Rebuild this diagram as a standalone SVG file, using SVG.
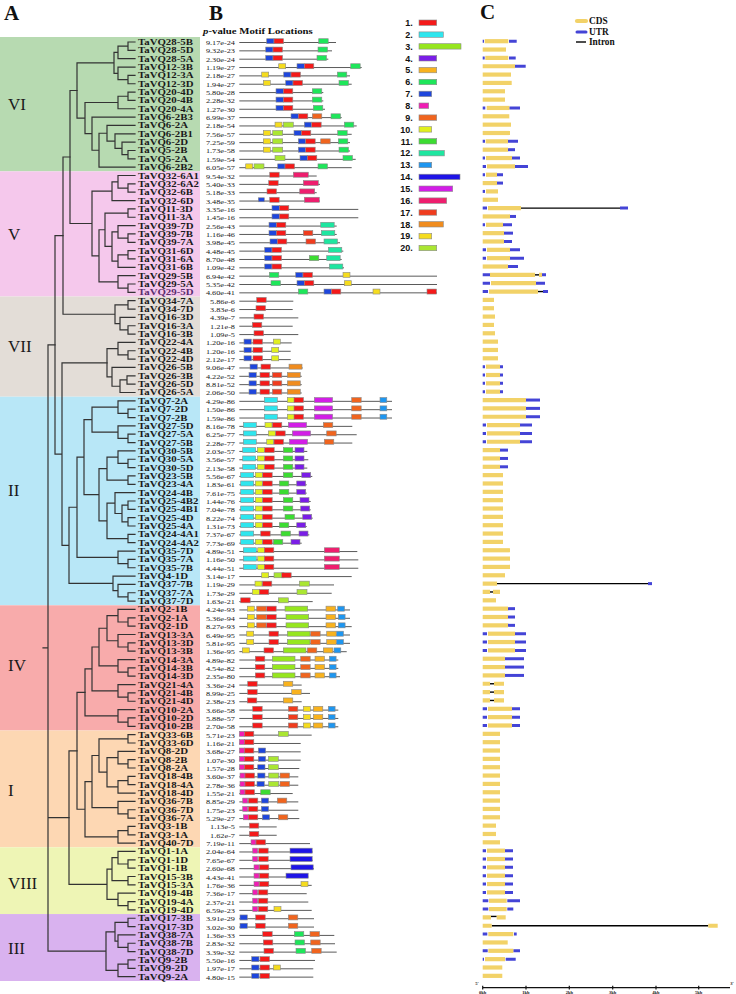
<svg xmlns="http://www.w3.org/2000/svg" width="736" height="994" viewBox="0 0 736 994">
<style>
.lb{font:bold 8.6px "Liberation Serif",serif;fill:#1a1a1a}
.pv{font:6.6px "Liberation Serif",serif;fill:#222;text-anchor:end}
.ln{stroke:#5a5a5a;stroke-width:1;fill:none}
.b{stroke:#8a8a8a;stroke-width:.6}
.c{stroke:#f2d268;stroke-width:4.2;fill:none}
.u{stroke:#4444d6;stroke-width:3;fill:none}
.i{stroke:#000;stroke-width:1.4;fill:none}
.tr{stroke:#333;stroke-width:1.2;fill:none;stroke-linecap:square}
.gn{font:17px "Liberation Serif",serif;fill:#1a1a1a}
.big{font:bold 21px "Liberation Serif",serif;fill:#111}
.hd{font:bold 9px "Liberation Serif",serif;fill:#111}
.lgn{font:bold 9px "Liberation Sans",sans-serif;fill:#111;text-anchor:end}
.cl{font:bold 9.3px "Liberation Serif",serif;fill:#111}
.ax{font:bold 4.5px "Liberation Serif",serif;fill:#111;text-anchor:middle}
.k1{fill:#f41a1a}.k2{fill:#2ee6ee}.k3{fill:#96e61e}.k4{fill:#7a1ee6}.k5{fill:#f8b21e}
.k6{fill:#1ee65a}.k7{fill:#1e46dc}.k8{fill:#f01eb4}.k9{fill:#f0641e}.k10{fill:#e1f01e}
.k11{fill:#3cdc32}.k12{fill:#1ee6a0}.k13{fill:#1e96f0}.k14{fill:#1e14e6}.k15{fill:#d21ee6}
.k16{fill:#ee1e6e}.k17{fill:#f03c1e}.k18{fill:#f08c1e}.k19{fill:#f5dc1e}.k20{fill:#aae632}
</style>
<defs>
<rect id="m1" class="b k1" y="-3.3" width="9.5" height="5"/>
<rect id="m2" class="b k2" y="-3.3" width="13" height="5"/>
<rect id="m3" class="b k3" y="-3.3" width="22.7" height="5"/>
<rect id="m4" class="b k4" y="-3.3" width="9" height="5"/>
<rect id="m5" class="b k5" y="-3.3" width="9.5" height="5"/>
<rect id="m6" class="b k6" y="-3.3" width="9.5" height="5"/>
<rect id="m7" class="b k7" y="-3.3" width="7.3" height="5"/>
<rect id="m7s" class="b k7" y="-2.8" width="6" height="4"/>
<rect id="m8" class="b k8" y="-3.3" width="5" height="5"/>
<rect id="m9" class="b k9" y="-3.3" width="9.5" height="5"/>
<rect id="m10" class="b k10" y="-3.3" width="7" height="5"/>
<rect id="m11" class="b k11" y="-3.3" width="9.5" height="5"/>
<rect id="m12" class="b k12" y="-3.3" width="13.5" height="5"/>
<rect id="m13" class="b k13" y="-3.3" width="6.8" height="5"/>
<rect id="m14" class="b k14" y="-3.3" width="22.2" height="5"/>
<rect id="m15" class="b k15" y="-3.3" width="18.3" height="5"/>
<rect id="m16" class="b k16" y="-3.3" width="15" height="5"/>
<rect id="m17" class="b k17" y="-3.3" width="9.5" height="5"/>
<rect id="m18" class="b k18" y="-3.3" width="13" height="5"/>
<rect id="m19" class="b k19" y="-3.3" width="7" height="5"/>
<rect id="m20" class="b k20" y="-3.3" width="10" height="5"/>
</defs>
<rect width="736" height="994" fill="#fff"/>
<g id="bands">
<rect x="0" y="37" width="200" height="134.35" fill="#b7dab1"/>
<rect x="0" y="171.35" width="200" height="125.15" fill="#f5c8ec"/>
<rect x="0" y="296.5" width="200" height="100.2" fill="#e3ddd7"/>
<rect x="0" y="396.7" width="200" height="208.6" fill="#b8e7f7"/>
<rect x="0" y="605.3" width="200" height="125.2" fill="#f8abab"/>
<rect x="0" y="730.5" width="200" height="116.8" fill="#fdd7b3"/>
<rect x="0" y="847.3" width="200" height="66.75" fill="#eef5b5"/>
<rect x="0" y="914.05" width="200" height="66.95" fill="#d9b2ef"/>
</g>
<g id="group-labels">
<text class="gn" x="8" y="110">VI</text>
<text class="gn" x="8" y="240">V</text>
<text class="gn" x="8" y="352">VII</text>
<text class="gn" x="8" y="496">II</text>
<text class="gn" x="8" y="671">IV</text>
<text class="gn" x="8" y="796">I</text>
<text class="gn" x="8" y="889">VIII</text>
<text class="gn" x="8" y="954">III</text>
</g>
<g id="panel-letters">
<text class="big" x="4" y="19.5">A</text>
<text class="big" x="209" y="19.5">B</text>
<text class="big" x="480" y="19">C</text>
<text class="hd" transform="matrix(1.2 0 0 1 203 33.5)"><tspan font-style="italic">p</tspan>-value Motif Locations</text>
</g>
<g id="tree" transform="matrix(1 0 0 8.345 0 33.655)">
<path class="tr" vector-effect="non-scaling-stroke" d="M135 1H128V2H135M128 1.5H118V3H135M135 5H128V6H135M135 4H118V5.5H128M118 2.25H114V4.75H118M135 7H128V8H135M128 7.5H118V9H135M135 14H128V15H135M135 13H122V14.5H128M135 12H115V13.75H122M135 11H107V12.875H115M107 11.9375H99V16H135M135 10H92V13.969H99M118 8.25H85V11.984H92M114 3.5H77V10.117H85"/>
<path class="tr" vector-effect="non-scaling-stroke" d="M135 18H128V19H135M135 17H118V18.5H128M118 17.75H112V20H135M135 21H128V22H135M135 24H128V25H135M135 23H118V24.5H128M135 26H128V27H135M128 26.5H118V28H135M118 23.75H112V27.25H118M128 21.5H105V25.5H112M135 30H128V31H135M135 29H118V30.5H128M105 23.5H99V29.75H118M112 18.875H92V26.625H99M77 6.809H70V22.75H92"/>
<path class="tr" vector-effect="non-scaling-stroke" d="M135 32H128V33H135M135 35H128V36H135M135 34H120V35.5H128M128 32.5H115V34.75H120M135 38H128V39H135M135 37H118V38.5H128M135 41H127V42H135M127 41.5H120V43H135M135 40H112V42.25H120M118 37.75H107V41.125H112M70 14.78H63V33.625H115"/>
<path class="tr" vector-effect="non-scaling-stroke" d="M135 45H128V46H135M135 44H118V45.5H128M135 48H128V49H135M135 47H118V48.5H128M118 44.75H92V47.75H118M135 51H128V52H135M135 50H118V51.5H128M135 53H128V54H135M118 50.75H107V53.5H128M135 56H128V57H135M135 58H128V59H135M128 56.5H122V58.5H128M135 55H115V57.5H122M135 60H128V61H135M115 56.25H107V60.5H128M107 52.125H99V58.375H107M92 46.25H84V55.25H99M135 63H128V64H135M135 62H118V63.5H128M84 50.75H77V62.75H118M135 67H128V68H135M135 66H118V67.5H128M135 65H113V66.75H118M77 56.75H69V65.875H113M107 39.44H62V61.31H69M63 24.2H55V50.375H62"/>
<path class="tr" vector-effect="non-scaling-stroke" d="M135 70H128V71H135M135 69H118V70.5H128M135 73H128V74H135M135 72H118V73.5H128M118 69.75H107V72.75H118M135 76H128V77H135M135 75H118V76.5H128M107 71.25H99V75.75H118M135 79H128V80H135M135 78H118V79.5H128M99 73.5H92V78.75H118M135 82H128V83H135M135 81H118V82.5H128M92 76.125H85V81.75H118"/>
<path class="tr" vector-effect="non-scaling-stroke" d="M135 84H128V85H135M135 87H128V88H135M135 86H118V87.5H128M135 89H128V90H135M128 89.5H118V91H135M118 86.75H107V90.25H118M128 84.5H99V88.5H107M135 93H128V94H135M135 92H118V93.5H128M99 86.5H92V92.75H118M135 95H128V96H135M128 95.5H118V97H135M92 89.625H85V96.25H118M85 78.94H77V92.94H85"/>
<path class="tr" vector-effect="non-scaling-stroke" d="M135 99H128V100H135M135 98H118V99.5H128M135 101H128V102H135M118 98.75H112V101.5H128M135 104H128V105H135M135 103H118V104.5H128M112 100.125H107V103.75H118M77 85.94H69V101.94H107"/>
<path class="tr" vector-effect="non-scaling-stroke" d="M135 106H128V107H135M135 109H128V110H135M135 108H118V109.5H128M128 106.5H115V108.75H118M135 111H128V112H135M128 111.5H118V113H135M115 107.625H106V112.25H118M55 37.29H48V109.94H106M48 93.94H69M43 73.6H48"/>
</g>
<g id="motif-legend">
<text class="lgn" x="412.7" y="25.9">1.</text><rect class="b k1" x="419" y="20" width="17.7" height="5.4"/>
<text class="lgn" x="412.7" y="37.8">2.</text><rect class="b k2" x="419" y="31.9" width="24.3" height="5.4"/>
<text class="lgn" x="412.7" y="49.6">3.</text><rect class="b k3" x="419" y="43.7" width="42" height="5.4"/>
<text class="lgn" x="412.7" y="61.5">4.</text><rect class="b k4" x="419" y="55.6" width="17.7" height="5.4"/>
<text class="lgn" x="412.7" y="73.3">5.</text><rect class="b k5" x="419" y="67.4" width="17.7" height="5.4"/>
<text class="lgn" x="412.7" y="85.2">6.</text><rect class="b k6" x="419" y="79.3" width="17.7" height="5.4"/>
<text class="lgn" x="412.7" y="97.1">7.</text><rect class="b k7" x="419" y="91.2" width="12.7" height="5.4"/>
<text class="lgn" x="412.7" y="108.9">8.</text><rect class="b k8" x="419" y="103" width="9.7" height="5.4"/>
<text class="lgn" x="412.7" y="120.8">9.</text><rect class="b k9" x="419" y="114.9" width="17.7" height="5.4"/>
<text class="lgn" x="412.7" y="132.6">10.</text><rect class="b k10" x="419" y="126.7" width="12.7" height="5.4"/>
<text class="lgn" x="412.7" y="144.5">11.</text><rect class="b k11" x="419" y="138.6" width="17.7" height="5.4"/>
<text class="lgn" x="412.7" y="156.4">12.</text><rect class="b k12" x="419" y="150.5" width="25.3" height="5.4"/>
<text class="lgn" x="412.7" y="168.2">13.</text><rect class="b k13" x="419" y="162.3" width="12.7" height="5.4"/>
<text class="lgn" x="412.7" y="180.1">14.</text><rect class="b k14" x="419" y="174.2" width="41" height="5.4"/>
<text class="lgn" x="412.7" y="191.9">15.</text><rect class="b k15" x="419" y="186" width="33.7" height="5.4"/>
<text class="lgn" x="412.7" y="203.8">16.</text><rect class="b k16" x="419" y="197.9" width="27.7" height="5.4"/>
<text class="lgn" x="412.7" y="215.7">17.</text><rect class="b k17" x="419" y="209.8" width="17.7" height="5.4"/>
<text class="lgn" x="412.7" y="227.5">18.</text><rect class="b k18" x="419" y="221.6" width="24.3" height="5.4"/>
<text class="lgn" x="412.7" y="239.4">19.</text><rect class="b k19" x="419" y="233.5" width="12.7" height="5.4"/>
<text class="lgn" x="412.7" y="251.2">20.</text><rect class="b k20" x="419" y="245.3" width="17.7" height="5.4"/>
</g>
<g id="gene-legend">
<path class="c" d="M577 21H586" stroke-width="3" stroke-linecap="round"/><text class="cl" x="589" y="24.3">CDS</text>
<path class="u" d="M577 32H586" stroke-width="3" stroke-linecap="round"/><text class="cl" x="589" y="35">UTR</text>
<path class="i" d="M576 42H586" stroke-width="2"/><text class="cl" x="589" y="45.2">Intron</text>
</g>
<g id="axis">
<path d="M482.7 987.7H730M482.7 985.8V989.5M526 985.8V989.5M569.3 985.8V989.5M612.7 985.8V989.5M656 985.8V989.5M698.7 985.8V989.5" stroke="#111" stroke-width="1.2" fill="none"/>
<text class="ax" x="482.7" y="993.5">0kb</text><text class="ax" x="526" y="993.5">1kb</text><text class="ax" x="569.3" y="993.5">2kb</text><text class="ax" x="612.7" y="993.5">3kb</text><text class="ax" x="656" y="993.5">4kb</text><text class="ax" x="698.7" y="993.5">5kb</text>
<text class="ax" x="477" y="984.5">5'</text><text class="ax" x="732" y="984.5">3'</text>
</g>
<g id="rows">
<g id="TaVQ28-5B" transform="translate(0,42)"><text class="lb" transform="matrix(1.26 0 0 1 138 3)">TaVQ28-5B</text><text class="pv" transform="matrix(1.25 0 0 1 235 3)">9.17e-24</text><path class="ln" d="M239.3 .5H336"/><use href="#m7" x="266.7"/><use href="#m1" x="274"/><use href="#m6" x="318.7"/><path class="u" d="M482.7-.8H484M509-.8H516.7"/><path class="c" d="M484.7-.8H508.3"/></g>
<g id="TaVQ28-5D" transform="translate(0,50.35)"><text class="lb" transform="matrix(1.26 0 0 1 138 3)">TaVQ28-5D</text><text class="pv" transform="matrix(1.25 0 0 1 235 3)">9.32e-23</text><path class="ln" d="M239.3 .5H332"/><use href="#m7" x="265.7"/><use href="#m1" x="273"/><use href="#m6" x="318"/><path class="c" d="M482.7-.8H506"/></g>
<g id="TaVQ28-5A" transform="translate(0,58.69)"><text class="lb" transform="matrix(1.26 0 0 1 138 3)">TaVQ28-5A</text><text class="pv" transform="matrix(1.25 0 0 1 235 3)">2.30e-24</text><path class="ln" d="M239.3 .5H328.3"/><use href="#m7" x="265.7"/><use href="#m1" x="273"/><use href="#m6" x="317"/><path class="u" d="M482.7-.8H484.7M509-.8H515.7"/><path class="c" d="M485.3-.8H508.3"/></g>
<g id="TaVQ12-3B" transform="translate(0,67.04)"><text class="lb" transform="matrix(1.26 0 0 1 138 3)">TaVQ12-3B</text><text class="pv" transform="matrix(1.25 0 0 1 235 3)">1.19e-27</text><path class="ln" d="M239.3 .5H361.7"/><use href="#m19" x="278.7"/><use href="#m7" x="297"/><use href="#m1" x="304.3"/><use href="#m6" x="350.7"/><path class="u" d="M515-.8H525.7"/><path class="c" d="M482.7-.8H515"/></g>
<g id="TaVQ12-3A" transform="translate(0,75.38)"><text class="lb" transform="matrix(1.26 0 0 1 138 3)">TaVQ12-3A</text><text class="pv" transform="matrix(1.25 0 0 1 235 3)">2.18e-27</text><path class="ln" d="M239.3 .5H350"/><use href="#m19" x="261.7"/><use href="#m7" x="283.7"/><use href="#m1" x="291"/><use href="#m6" x="337.3"/><path class="c" d="M482.7-.8H511"/></g>
<g id="TaVQ12-3D" transform="translate(0,83.73)"><text class="lb" transform="matrix(1.26 0 0 1 138 3)">TaVQ12-3D</text><text class="pv" transform="matrix(1.25 0 0 1 235 3)">1.94e-27</text><path class="ln" d="M239.3 .5H351.7"/><use href="#m19" x="263.3"/><use href="#m7" x="285.7"/><use href="#m1" x="293"/><use href="#m6" x="339"/><path class="c" d="M482.7-.8H511.7"/></g>
<g id="TaVQ20-4D" transform="translate(0,92.07)"><text class="lb" transform="matrix(1.26 0 0 1 138 3)">TaVQ20-4D</text><text class="pv" transform="matrix(1.25 0 0 1 235 3)">5.80e-28</text><path class="ln" d="M239.3 .5H323.3"/><use href="#m7" x="276"/><use href="#m1" x="283.3"/><use href="#m6" x="312.3"/><path class="c" d="M482.7-.8H505"/></g>
<g id="TaVQ20-4B" transform="translate(0,100.42)"><text class="lb" transform="matrix(1.26 0 0 1 138 3)">TaVQ20-4B</text><text class="pv" transform="matrix(1.25 0 0 1 235 3)">2.28e-32</text><path class="ln" d="M239.3 .5H323.3"/><use href="#m7" x="276"/><use href="#m1" x="283.3"/><use href="#m6" x="312.3"/><path class="c" d="M482.7-.8H505"/></g>
<g id="TaVQ20-4A" transform="translate(0,108.76)"><text class="lb" transform="matrix(1.26 0 0 1 138 3)">TaVQ20-4A</text><text class="pv" transform="matrix(1.25 0 0 1 235 3)">1.27e-30</text><path class="ln" d="M239.3 .5H325"/><use href="#m7" x="276"/><use href="#m1" x="283.3"/><use href="#m6" x="313.3"/><path class="u" d="M482.7-.8H485.3M509.3-.8H520"/><path class="c" d="M486.7-.8H509.3"/></g>
<g id="TaVQ6-2B3" transform="translate(0,117.11)"><text class="lb" transform="matrix(1.26 0 0 1 138 3)">TaVQ6-2B3</text><text class="pv" transform="matrix(1.25 0 0 1 235 3)">6.99e-37</text><path class="ln" d="M239.3 .5H341.7"/><use href="#m7" x="291"/><use href="#m1" x="298.3"/><use href="#m9" x="312.3"/><use href="#m6" x="331"/><path class="c" d="M482.7-.8H509.3"/></g>
<g id="TaVQ6-2A" transform="translate(0,125.45)"><text class="lb" transform="matrix(1.26 0 0 1 138 3)">TaVQ6-2A</text><text class="pv" transform="matrix(1.25 0 0 1 235 3)">2.18e-54</text><path class="ln" d="M239.3 .5H356.7"/><use href="#m19" x="275"/><use href="#m20" x="283.3"/><use href="#m7" x="304.3"/><use href="#m1" x="311.7"/><use href="#m6" x="344.3"/><path class="c" d="M482.7-.8H511"/></g>
<g id="TaVQ6-2B1" transform="translate(0,133.8)"><text class="lb" transform="matrix(1.26 0 0 1 138 3)">TaVQ6-2B1</text><text class="pv" transform="matrix(1.25 0 0 1 235 3)">7.56e-57</text><path class="ln" d="M239.3 .5H351.7"/><use href="#m19" x="263.3"/><use href="#m20" x="272.7"/><use href="#m7" x="294"/><use href="#m1" x="301.3"/><use href="#m6" x="337.7"/><path class="c" d="M482.7-.8H510"/></g>
<g id="TaVQ6-2D" transform="translate(0,142.14)"><text class="lb" transform="matrix(1.26 0 0 1 138 3)">TaVQ6-2D</text><text class="pv" transform="matrix(1.25 0 0 1 235 3)">7.25e-59</text><path class="ln" d="M239.3 .5H350"/><use href="#m19" x="263.3"/><use href="#m20" x="272.7"/><use href="#m7" x="298.3"/><use href="#m1" x="305.7"/><use href="#m9" x="320.7"/><use href="#m6" x="338.3"/><path class="u" d="M482.7-.8H485M508-.8H518"/><path class="c" d="M485.7-.8H508"/></g>
<g id="TaVQ5-2B" transform="translate(0,150.49)"><text class="lb" transform="matrix(1.26 0 0 1 138 3)">TaVQ5-2B</text><text class="pv" transform="matrix(1.25 0 0 1 235 3)">1.73e-58</text><path class="ln" d="M239.3 .5H350"/><use href="#m19" x="263.3"/><use href="#m20" x="272.7"/><use href="#m7" x="298.3"/><use href="#m1" x="305.7"/><use href="#m6" x="339"/><path class="u" d="M508-.8H515"/><path class="c" d="M482.7-.8H508"/></g>
<g id="TaVQ5-2A" transform="translate(0,158.83)"><text class="lb" transform="matrix(1.26 0 0 1 138 3)">TaVQ5-2A</text><text class="pv" transform="matrix(1.25 0 0 1 235 3)">1.59e-54</text><path class="ln" d="M239.3 .5H355.7"/><use href="#m20" x="275"/><use href="#m7" x="300"/><use href="#m1" x="307.3"/><use href="#m6" x="343"/><path class="u" d="M482.7-.8H485M512-.8H520"/><path class="c" d="M486-.8H512"/></g>
<g id="TaVQ6-2B2" transform="translate(0,167.18)"><text class="lb" transform="matrix(1.26 0 0 1 138 3)">TaVQ6-2B2</text><text class="pv" transform="matrix(1.25 0 0 1 235 3)">6.05e-57</text><path class="ln" d="M239.3 .5H351.7"/><use href="#m19" x="245.7"/><use href="#m20" x="254"/><use href="#m7" x="277.7"/><use href="#m1" x="285"/><use href="#m6" x="318"/><path class="u" d="M482.7-.8H486M515-.8H528"/><path class="c" d="M487-.8H515"/></g>
<g id="TaVQ32-6A1" transform="translate(0,175.52)"><text class="lb" transform="matrix(1.26 0 0 1 138 3)">TaVQ32-6A1</text><text class="pv" transform="matrix(1.25 0 0 1 235 3)">9.54e-32</text><path class="ln" d="M239.3 .5H316.7"/><use href="#m1" x="269.7"/><use href="#m16" x="293.3"/><path class="u" d="M482.7-.8H485M497-.8H503"/><path class="c" d="M486-.8H497"/></g>
<g id="TaVQ32-6A2" transform="translate(0,183.87)"><text class="lb" transform="matrix(1.26 0 0 1 138 3)">TaVQ32-6A2</text><text class="pv" transform="matrix(1.25 0 0 1 235 3)">5.40e-33</text><path class="ln" d="M239.3 .5H320"/><use href="#m1" x="268.7"/><use href="#m16" x="303.3"/><path class="u" d="M497-.8H503"/><path class="c" d="M482.7-.8H497"/></g>
<g id="TaVQ32-6B" transform="translate(0,192.21)"><text class="lb" transform="matrix(1.26 0 0 1 138 3)">TaVQ32-6B</text><text class="pv" transform="matrix(1.25 0 0 1 235 3)">5.18e-33</text><path class="ln" d="M239.3 .5H316.7"/><use href="#m1" x="267"/><use href="#m16" x="299.7"/><path class="u" d="M482.7-.8H485"/><path class="c" d="M486-.8H498"/></g>
<g id="TaVQ32-6D" transform="translate(0,200.56)"><text class="lb" transform="matrix(1.26 0 0 1 138 3)">TaVQ32-6D</text><text class="pv" transform="matrix(1.25 0 0 1 235 3)">3.48e-35</text><path class="ln" d="M239.3 .5H320"/><use href="#m7s" x="258.3"/><use href="#m1" x="269.7"/><use href="#m16" x="304.3"/><path class="c" d="M482.7-.8H498"/></g>
<g id="TaVQ11-3D" transform="translate(0,208.9)"><text class="lb" transform="matrix(1.26 0 0 1 138 3)">TaVQ11-3D</text><text class="pv" transform="matrix(1.25 0 0 1 235 3)">3.35e-16</text><path class="ln" d="M239.3 .5H358.3"/><use href="#m7" x="272"/><use href="#m1" x="279.3"/><path class="i" d="M521-.8H620"/><path class="u" d="M482.7-.8H487M620-.8H628"/><path class="c" d="M488-.8H521"/></g>
<g id="TaVQ11-3A" transform="translate(0,217.25)"><text class="lb" transform="matrix(1.26 0 0 1 138 3)">TaVQ11-3A</text><text class="pv" transform="matrix(1.25 0 0 1 235 3)">1.45e-16</text><path class="ln" d="M239.3 .5H358.3"/><use href="#m7" x="272"/><use href="#m1" x="279.3"/><path class="u" d="M510-.8H516"/><path class="c" d="M482.7-.8H510"/></g>
<g id="TaVQ39-7D" transform="translate(0,225.59)"><text class="lb" transform="matrix(1.26 0 0 1 138 3)">TaVQ39-7D</text><text class="pv" transform="matrix(1.25 0 0 1 235 3)">2.56e-43</text><path class="ln" d="M239.3 .5H336.7"/><use href="#m7" x="269"/><use href="#m1" x="276.3"/><use href="#m12" x="320.7"/><path class="u" d="M482.7-.8H485M503-.8H512"/><path class="c" d="M486-.8H503"/></g>
<g id="TaVQ39-7B" transform="translate(0,233.94)"><text class="lb" transform="matrix(1.26 0 0 1 138 3)">TaVQ39-7B</text><text class="pv" transform="matrix(1.25 0 0 1 235 3)">1.16e-46</text><path class="ln" d="M239.3 .5H336.7"/><use href="#m7" x="269"/><use href="#m1" x="276.3"/><use href="#m17" x="303.3"/><use href="#m12" x="321.3"/><path class="u" d="M504-.8H513"/><path class="c" d="M482.7-.8H504"/></g>
<g id="TaVQ39-7A" transform="translate(0,242.28)"><text class="lb" transform="matrix(1.26 0 0 1 138 3)">TaVQ39-7A</text><text class="pv" transform="matrix(1.25 0 0 1 235 3)">3.98e-45</text><path class="ln" d="M239.3 .5H340"/><use href="#m7" x="270"/><use href="#m1" x="277.3"/><use href="#m17" x="306"/><use href="#m12" x="324"/><path class="u" d="M504-.8H512"/><path class="c" d="M482.7-.8H504"/></g>
<g id="TaVQ31-6D" transform="translate(0,250.63)"><text class="lb" transform="matrix(1.26 0 0 1 138 3)">TaVQ31-6D</text><text class="pv" transform="matrix(1.25 0 0 1 235 3)">4.48e-45</text><path class="ln" d="M239.3 .5H343.3"/><use href="#m7" x="264.7"/><use href="#m1" x="272"/><use href="#m12" x="328.3"/><path class="u" d="M482.7-.8H486M510-.8H520"/><path class="c" d="M487-.8H510"/></g>
<g id="TaVQ31-6A" transform="translate(0,258.97)"><text class="lb" transform="matrix(1.26 0 0 1 138 3)">TaVQ31-6A</text><text class="pv" transform="matrix(1.25 0 0 1 235 3)">8.70e-48</text><path class="ln" d="M239.3 .5H341.7"/><use href="#m7" x="264.7"/><use href="#m1" x="272"/><use href="#m11" x="309.3"/><use href="#m12" x="326.7"/><path class="u" d="M482.7-.8H486M510-.8H524"/><path class="c" d="M487-.8H510"/></g>
<g id="TaVQ31-6B" transform="translate(0,267.32)"><text class="lb" transform="matrix(1.26 0 0 1 138 3)">TaVQ31-6B</text><text class="pv" transform="matrix(1.25 0 0 1 235 3)">1.09e-42</text><path class="ln" d="M239.3 .5H344"/><use href="#m7" x="264.7"/><use href="#m1" x="272"/><use href="#m12" x="329.3"/><path class="u" d="M508-.8H518"/><path class="c" d="M482.7-.8H508"/></g>
<g id="TaVQ29-5B" transform="translate(0,275.66)"><text class="lb" transform="matrix(1.26 0 0 1 138 3)">TaVQ29-5B</text><text class="pv" transform="matrix(1.25 0 0 1 235 3)">6.94e-42</text><path class="ln" d="M239.3 .5H437"/><use href="#m6" x="269.3"/><use href="#m7" x="295.7"/><use href="#m1" x="303"/><use href="#m19" x="343"/><path class="i" d="M535-.8H539"/><path class="u" d="M482.7-.8H490M542-.8H546"/><path class="c" d="M490-.8H535M539-.8H542"/></g>
<g id="TaVQ29-5A" transform="translate(0,284.01)"><text class="lb" transform="matrix(1.26 0 0 1 138 3)">TaVQ29-5A</text><text class="pv" transform="matrix(1.25 0 0 1 235 3)">5.35e-42</text><path class="ln" d="M239.3 .5H437"/><use href="#m6" x="271"/><use href="#m7" x="297"/><use href="#m1" x="304.3"/><use href="#m19" x="344.3"/><path class="u" d="M482.7-.8H490M536-.8H545"/><path class="c" d="M491-.8H536"/></g>
<g id="TaVQ29-5D" transform="translate(0,292.35)"><text class="lb" transform="matrix(1.26 0 0 1 138 3)" style="fill:#5b2d6e">TaVQ29-5D</text><text class="pv" transform="matrix(1.25 0 0 1 235 3)">4.60e-41</text><path class="ln" d="M239.3 .5H437"/><use href="#m6" x="298.3"/><use href="#m7" x="324"/><use href="#m1" x="331.3"/><use href="#m19" x="373"/><use href="#m1" x="427"/><path class="i" d="M538-.8H543"/><path class="u" d="M482.7-.8H488M543-.8H548"/><path class="c" d="M489-.8H538"/></g>
<g id="TaVQ34-7A" transform="translate(0,300.7)"><text class="lb" transform="matrix(1.26 0 0 1 138 3)">TaVQ34-7A</text><text class="pv" transform="matrix(1.25 0 0 1 235 3)">5.86e-6</text><path class="ln" d="M239.3 .5H293.3"/><use href="#m1" x="256.7"/><path class="c" d="M482.7-.8H494"/></g>
<g id="TaVQ34-7D" transform="translate(0,309.04)"><text class="lb" transform="matrix(1.26 0 0 1 138 3)">TaVQ34-7D</text><text class="pv" transform="matrix(1.25 0 0 1 235 3)">3.83e-6</text><path class="ln" d="M239.3 .5H292.7"/><use href="#m1" x="256"/><path class="c" d="M482.7-.8H494"/></g>
<g id="TaVQ16-3D" transform="translate(0,317.39)"><text class="lb" transform="matrix(1.26 0 0 1 138 3)">TaVQ16-3D</text><text class="pv" transform="matrix(1.25 0 0 1 235 3)">4.39e-7</text><path class="ln" d="M239.3 .5H298.3"/><use href="#m1" x="254"/><path class="c" d="M482.7-.8H495"/></g>
<g id="TaVQ16-3A" transform="translate(0,325.73)"><text class="lb" transform="matrix(1.26 0 0 1 138 3)">TaVQ16-3A</text><text class="pv" transform="matrix(1.25 0 0 1 235 3)">1.21e-8</text><path class="ln" d="M239.3 .5H292.7"/><use href="#m1" x="252.3"/><path class="c" d="M482.7-.8H494"/></g>
<g id="TaVQ16-3B" transform="translate(0,334.08)"><text class="lb" transform="matrix(1.26 0 0 1 138 3)">TaVQ16-3B</text><text class="pv" transform="matrix(1.25 0 0 1 235 3)">1.09e-5</text><path class="ln" d="M239.3 .5H298.3"/><use href="#m1" x="254"/><path class="c" d="M482.7-.8H495"/></g>
<g id="TaVQ22-4A" transform="translate(0,342.42)"><text class="lb" transform="matrix(1.26 0 0 1 138 3)">TaVQ22-4A</text><text class="pv" transform="matrix(1.25 0 0 1 235 3)">1.20e-16</text><path class="ln" d="M239.3 .5H291.7"/><use href="#m7" x="244"/><use href="#m1" x="253"/><use href="#m10" x="273.3"/><path class="c" d="M482.7-.8H498"/></g>
<g id="TaVQ22-4B" transform="translate(0,350.77)"><text class="lb" transform="matrix(1.26 0 0 1 138 3)">TaVQ22-4B</text><text class="pv" transform="matrix(1.25 0 0 1 235 3)">1.20e-16</text><path class="ln" d="M239.3 .5H290.7"/><use href="#m7" x="244"/><use href="#m1" x="253"/><use href="#m10" x="271.7"/><path class="c" d="M482.7-.8H498"/></g>
<g id="TaVQ22-4D" transform="translate(0,359.11)"><text class="lb" transform="matrix(1.26 0 0 1 138 3)">TaVQ22-4D</text><text class="pv" transform="matrix(1.25 0 0 1 235 3)">2.12e-17</text><path class="ln" d="M239.3 .5H290.7"/><use href="#m7" x="244"/><use href="#m1" x="253"/><use href="#m10" x="271.7"/><path class="c" d="M482.7-.8H498"/></g>
<g id="TaVQ26-5B" transform="translate(0,367.46)"><text class="lb" transform="matrix(1.26 0 0 1 138 3)">TaVQ26-5B</text><text class="pv" transform="matrix(1.25 0 0 1 235 3)">9.06e-47</text><path class="ln" d="M239.3 .5H302.7"/><use href="#m7" x="250"/><use href="#m1" x="261"/><use href="#m18" x="289"/><path class="u" d="M482.7-.8H485M500-.8H503"/><path class="c" d="M486-.8H500"/></g>
<g id="TaVQ26-3B" transform="translate(0,375.8)"><text class="lb" transform="matrix(1.26 0 0 1 138 3)">TaVQ26-3B</text><text class="pv" transform="matrix(1.25 0 0 1 235 3)">4.22e-52</text><path class="ln" d="M239.3 .5H301.7"/><use href="#m7" x="249"/><use href="#m1" x="260"/><use href="#m17" x="272.3"/><use href="#m18" x="287.3"/><path class="u" d="M482.7-.8H485M500-.8H503"/><path class="c" d="M486-.8H500"/></g>
<g id="TaVQ26-5D" transform="translate(0,384.15)"><text class="lb" transform="matrix(1.26 0 0 1 138 3)">TaVQ26-5D</text><text class="pv" transform="matrix(1.25 0 0 1 235 3)">8.81e-52</text><path class="ln" d="M239.3 .5H301.7"/><use href="#m7" x="249"/><use href="#m1" x="260"/><use href="#m17" x="272.3"/><use href="#m18" x="287.3"/><path class="u" d="M482.7-.8H485M500-.8H503"/><path class="c" d="M486-.8H500"/></g>
<g id="TaVQ26-5A" transform="translate(0,392.49)"><text class="lb" transform="matrix(1.26 0 0 1 138 3)">TaVQ26-5A</text><text class="pv" transform="matrix(1.25 0 0 1 235 3)">2.06e-50</text><path class="ln" d="M239.3 .5H301.7"/><use href="#m7" x="249"/><use href="#m1" x="260"/><use href="#m17" x="272.3"/><use href="#m18" x="287.3"/><path class="u" d="M482.7-.8H485M500-.8H503"/><path class="c" d="M486-.8H500"/></g>
<g id="TaVQ7-2A" transform="translate(0,400.84)"><text class="lb" transform="matrix(1.26 0 0 1 138 3)">TaVQ7-2A</text><text class="pv" transform="matrix(1.25 0 0 1 235 3)">4.29e-86</text><path class="ln" d="M239.3 .5H392"/><use href="#m2" x="264.3"/><use href="#m10" x="287.3"/><use href="#m1" x="294"/><use href="#m15" x="314.3"/><use href="#m9" x="351.7"/><use href="#m13" x="380"/><path class="u" d="M526-.8H540"/><path class="c" d="M482.7-.8H526"/></g>
<g id="TaVQ7-2D" transform="translate(0,409.18)"><text class="lb" transform="matrix(1.26 0 0 1 138 3)">TaVQ7-2D</text><text class="pv" transform="matrix(1.25 0 0 1 235 3)">1.50e-86</text><path class="ln" d="M239.3 .5H392"/><use href="#m2" x="264.3"/><use href="#m10" x="287.3"/><use href="#m1" x="294"/><use href="#m15" x="314.3"/><use href="#m9" x="351.7"/><use href="#m13" x="380"/><path class="u" d="M526-.8H540"/><path class="c" d="M482.7-.8H526"/></g>
<g id="TaVQ7-2B" transform="translate(0,417.53)"><text class="lb" transform="matrix(1.26 0 0 1 138 3)">TaVQ7-2B</text><text class="pv" transform="matrix(1.25 0 0 1 235 3)">1.59e-86</text><path class="ln" d="M239.3 .5H392"/><use href="#m2" x="264.3"/><use href="#m10" x="287.3"/><use href="#m1" x="294"/><use href="#m15" x="314.3"/><use href="#m9" x="351.7"/><use href="#m13" x="380"/><path class="u" d="M526-.8H540"/><path class="c" d="M482.7-.8H526"/></g>
<g id="TaVQ27-5D" transform="translate(0,425.87)"><text class="lb" transform="matrix(1.26 0 0 1 138 3)">TaVQ27-5D</text><text class="pv" transform="matrix(1.25 0 0 1 235 3)">8.16e-78</text><path class="ln" d="M239.3 .5H352.3"/><use href="#m2" x="243.3"/><use href="#m10" x="265"/><use href="#m1" x="272.3"/><use href="#m15" x="288.3"/><use href="#m9" x="323.3"/><path class="u" d="M482.7-.8H486M520-.8H532"/><path class="c" d="M487-.8H520"/></g>
<g id="TaVQ27-5A" transform="translate(0,434.22)"><text class="lb" transform="matrix(1.26 0 0 1 138 3)">TaVQ27-5A</text><text class="pv" transform="matrix(1.25 0 0 1 235 3)">6.25e-77</text><path class="ln" d="M239.3 .5H356.7"/><use href="#m2" x="243.3"/><use href="#m10" x="268.3"/><use href="#m1" x="275.7"/><use href="#m15" x="292.3"/><use href="#m9" x="326.7"/><path class="u" d="M482.7-.8H486M520-.8H532"/><path class="c" d="M487-.8H520"/></g>
<g id="TaVQ27-5B" transform="translate(0,442.56)"><text class="lb" transform="matrix(1.26 0 0 1 138 3)">TaVQ27-5B</text><text class="pv" transform="matrix(1.25 0 0 1 235 3)">2.28e-77</text><path class="ln" d="M239.3 .5H352.3"/><use href="#m2" x="243.3"/><use href="#m10" x="266.7"/><use href="#m1" x="274"/><use href="#m15" x="289.3"/><use href="#m9" x="324.3"/><path class="u" d="M482.7-.8H486M520-.8H532"/><path class="c" d="M487-.8H520"/></g>
<g id="TaVQ30-5B" transform="translate(0,450.91)"><text class="lb" transform="matrix(1.26 0 0 1 138 3)">TaVQ30-5B</text><text class="pv" transform="matrix(1.25 0 0 1 235 3)">2.03e-57</text><path class="ln" d="M239.3 .5H307.3"/><use href="#m2" x="242.7"/><use href="#m10" x="257.3"/><use href="#m1" x="264.7"/><use href="#m11" x="283.3"/><use href="#m4" x="295"/><path class="u" d="M500-.8H508"/><path class="c" d="M482.7-.8H500"/></g>
<g id="TaVQ30-5A" transform="translate(0,459.25)"><text class="lb" transform="matrix(1.26 0 0 1 138 3)">TaVQ30-5A</text><text class="pv" transform="matrix(1.25 0 0 1 235 3)">3.56e-57</text><path class="ln" d="M239.3 .5H308.3"/><use href="#m2" x="242.7"/><use href="#m10" x="257.3"/><use href="#m1" x="264.7"/><use href="#m11" x="283.3"/><use href="#m4" x="295"/><path class="u" d="M500-.8H508"/><path class="c" d="M482.7-.8H500"/></g>
<g id="TaVQ30-5D" transform="translate(0,467.6)"><text class="lb" transform="matrix(1.26 0 0 1 138 3)">TaVQ30-5D</text><text class="pv" transform="matrix(1.25 0 0 1 235 3)">2.13e-58</text><path class="ln" d="M239.3 .5H307.3"/><use href="#m2" x="242.7"/><use href="#m10" x="257.3"/><use href="#m1" x="264.7"/><use href="#m11" x="283.3"/><use href="#m4" x="295"/><path class="u" d="M500-.8H508"/><path class="c" d="M482.7-.8H500"/></g>
<g id="TaVQ23-5B" transform="translate(0,475.94)"><text class="lb" transform="matrix(1.26 0 0 1 138 3)">TaVQ23-5B</text><text class="pv" transform="matrix(1.25 0 0 1 235 3)">5.56e-67</text><path class="ln" d="M239.3 .5H312.3"/><use href="#m2" x="240.7"/><use href="#m10" x="255.3"/><use href="#m1" x="262.7"/><use href="#m11" x="283.3"/><use href="#m4" x="301.7"/><path class="c" d="M482.7-.8H503"/></g>
<g id="TaVQ23-4A" transform="translate(0,484.29)"><text class="lb" transform="matrix(1.26 0 0 1 138 3)">TaVQ23-4A</text><text class="pv" transform="matrix(1.25 0 0 1 235 3)">1.83e-61</text><path class="ln" d="M239.3 .5H306.7"/><use href="#m2" x="240.7"/><use href="#m10" x="255.3"/><use href="#m1" x="262.7"/><use href="#m11" x="279.3"/><use href="#m4" x="296.7"/><path class="c" d="M482.7-.8H503"/></g>
<g id="TaVQ24-4B" transform="translate(0,492.63)"><text class="lb" transform="matrix(1.26 0 0 1 138 3)">TaVQ24-4B</text><text class="pv" transform="matrix(1.25 0 0 1 235 3)">7.61e-75</text><path class="ln" d="M239.3 .5H306.7"/><use href="#m2" x="240.7"/><use href="#m10" x="255.3"/><use href="#m1" x="262.7"/><use href="#m11" x="279.3"/><use href="#m4" x="296.7"/><path class="c" d="M482.7-.8H503"/></g>
<g id="TaVQ25-4B2" transform="translate(0,500.98)"><text class="lb" transform="matrix(1.26 0 0 1 138 3)">TaVQ25-4B2</text><text class="pv" transform="matrix(1.25 0 0 1 235 3)">1.44e-76</text><path class="ln" d="M239.3 .5H310.7"/><use href="#m2" x="240.7"/><use href="#m10" x="255.3"/><use href="#m1" x="262.7"/><use href="#m11" x="283.3"/><use href="#m4" x="300"/><path class="c" d="M482.7-.8H503"/></g>
<g id="TaVQ25-4B1" transform="translate(0,509.32)"><text class="lb" transform="matrix(1.26 0 0 1 138 3)">TaVQ25-4B1</text><text class="pv" transform="matrix(1.25 0 0 1 235 3)">7.04e-78</text><path class="ln" d="M239.3 .5H310.7"/><use href="#m2" x="240.7"/><use href="#m10" x="255.3"/><use href="#m1" x="262.7"/><use href="#m11" x="283.3"/><use href="#m4" x="300.7"/><path class="c" d="M482.7-.8H503"/></g>
<g id="TaVQ25-4D" transform="translate(0,517.67)"><text class="lb" transform="matrix(1.26 0 0 1 138 3)">TaVQ25-4D</text><text class="pv" transform="matrix(1.25 0 0 1 235 3)">8.22e-74</text><path class="ln" d="M239.3 .5H312.7"/><use href="#m2" x="240.7"/><use href="#m10" x="255.3"/><use href="#m1" x="262.7"/><use href="#m11" x="285"/><use href="#m4" x="302.7"/><path class="c" d="M482.7-.8H503"/></g>
<g id="TaVQ25-4A" transform="translate(0,526.01)"><text class="lb" transform="matrix(1.26 0 0 1 138 3)">TaVQ25-4A</text><text class="pv" transform="matrix(1.25 0 0 1 235 3)">1.31e-73</text><path class="ln" d="M239.3 .5H306.7"/><use href="#m2" x="240.7"/><use href="#m10" x="255.3"/><use href="#m1" x="262.7"/><use href="#m11" x="279.3"/><use href="#m4" x="296.7"/><path class="c" d="M482.7-.8H503"/></g>
<g id="TaVQ24-4A1" transform="translate(0,534.36)"><text class="lb" transform="matrix(1.26 0 0 1 138 3)">TaVQ24-4A1</text><text class="pv" transform="matrix(1.25 0 0 1 235 3)">7.37e-67</text><path class="ln" d="M239.3 .5H309.3"/><use href="#m2" x="240.7"/><use href="#m1" x="260.7"/><use href="#m11" x="281"/><use href="#m4" x="299"/><path class="c" d="M482.7-.8H503"/></g>
<g id="TaVQ24-4A2" transform="translate(0,542.7)"><text class="lb" transform="matrix(1.26 0 0 1 138 3)">TaVQ24-4A2</text><text class="pv" transform="matrix(1.25 0 0 1 235 3)">7.73e-69</text><path class="ln" d="M239.3 .5H301.7"/><use href="#m2" x="240.7"/><use href="#m10" x="255.3"/><use href="#m1" x="262.7"/><use href="#m11" x="273.3"/><use href="#m4" x="291"/><path class="c" d="M482.7-.8H503"/></g>
<g id="TaVQ35-7D" transform="translate(0,551.05)"><text class="lb" transform="matrix(1.26 0 0 1 138 3)">TaVQ35-7D</text><text class="pv" transform="matrix(1.25 0 0 1 235 3)">4.89e-51</text><path class="ln" d="M239.3 .5H357.3"/><use href="#m2" x="243.3"/><use href="#m10" x="257.7"/><use href="#m1" x="264.3"/><use href="#m16" x="324.3"/><path class="c" d="M482.7-.8H510"/></g>
<g id="TaVQ35-7A" transform="translate(0,559.39)"><text class="lb" transform="matrix(1.26 0 0 1 138 3)">TaVQ35-7A</text><text class="pv" transform="matrix(1.25 0 0 1 235 3)">1.16e-50</text><path class="ln" d="M239.3 .5H358.3"/><use href="#m2" x="243.3"/><use href="#m10" x="257.7"/><use href="#m1" x="264.3"/><use href="#m16" x="324.3"/><path class="c" d="M482.7-.8H510"/></g>
<g id="TaVQ35-7B" transform="translate(0,567.74)"><text class="lb" transform="matrix(1.26 0 0 1 138 3)">TaVQ35-7B</text><text class="pv" transform="matrix(1.25 0 0 1 235 3)">4.44e-51</text><path class="ln" d="M239.3 .5H358.3"/><use href="#m2" x="243.3"/><use href="#m10" x="257.7"/><use href="#m1" x="264.3"/><use href="#m16" x="324.3"/><path class="c" d="M482.7-.8H510"/></g>
<g id="TaVQ4-1D" transform="translate(0,576.08)"><text class="lb" transform="matrix(1.26 0 0 1 138 3)">TaVQ4-1D</text><text class="pv" transform="matrix(1.25 0 0 1 235 3)">3.14e-17</text><path class="ln" d="M239.3 .5H351.7"/><use href="#m10" x="261.7"/><use href="#m20" x="274"/><use href="#m1" x="281.7"/><path class="c" d="M482.7-.8H505"/></g>
<g id="TaVQ37-7B" transform="translate(0,584.43)"><text class="lb" transform="matrix(1.26 0 0 1 138 3)">TaVQ37-7B</text><text class="pv" transform="matrix(1.25 0 0 1 235 3)">1.19e-29</text><path class="ln" d="M239.3 .5H334"/><use href="#m10" x="255"/><use href="#m1" x="262.3"/><use href="#m20" x="299.3"/><path class="i" d="M497-.8H648"/><path class="u" d="M648-.8H652"/><path class="c" d="M482.7-.8H497"/></g>
<g id="TaVQ37-7A" transform="translate(0,592.77)"><text class="lb" transform="matrix(1.26 0 0 1 138 3)">TaVQ37-7A</text><text class="pv" transform="matrix(1.25 0 0 1 235 3)">1.73e-29</text><path class="ln" d="M239.3 .5H331.7"/><use href="#m10" x="252.3"/><use href="#m1" x="259.3"/><use href="#m20" x="297"/><path class="i" d="M490-.8H493"/><path class="c" d="M482.7-.8H490M493-.8H500"/></g>
<g id="TaVQ37-7D" transform="translate(0,601.12)"><text class="lb" transform="matrix(1.26 0 0 1 138 3)">TaVQ37-7D</text><text class="pv" transform="matrix(1.25 0 0 1 235 3)">1.63e-21</text><path class="ln" d="M239.3 .5H312.7"/><use href="#m1" x="240.7"/><use href="#m20" x="278.3"/><path class="c" d="M482.7-.8H496"/></g>
<g id="TaVQ2-1B" transform="translate(0,609.46)"><text class="lb" transform="matrix(1.26 0 0 1 138 3)">TaVQ2-1B</text><text class="pv" transform="matrix(1.25 0 0 1 235 3)">4.24e-93</text><path class="ln" d="M239.3 .5H350"/><use href="#m19" x="247.3"/><use href="#m9" x="256.7"/><use href="#m1" x="266.7"/><use href="#m3" x="285"/><use href="#m5" x="326"/><use href="#m13" x="337.7"/><path class="u" d="M508-.8H515"/><path class="c" d="M482.7-.8H508"/></g>
<g id="TaVQ2-1A" transform="translate(0,617.81)"><text class="lb" transform="matrix(1.26 0 0 1 138 3)">TaVQ2-1A</text><text class="pv" transform="matrix(1.25 0 0 1 235 3)">5.36e-94</text><path class="ln" d="M239.3 .5H350"/><use href="#m19" x="247.3"/><use href="#m9" x="256.7"/><use href="#m1" x="266.7"/><use href="#m3" x="286"/><use href="#m5" x="326"/><use href="#m13" x="338.3"/><path class="u" d="M508-.8H515"/><path class="c" d="M482.7-.8H508"/></g>
<g id="TaVQ2-1D" transform="translate(0,626.15)"><text class="lb" transform="matrix(1.26 0 0 1 138 3)">TaVQ2-1D</text><text class="pv" transform="matrix(1.25 0 0 1 235 3)">8.27e-93</text><path class="ln" d="M239.3 .5H351.7"/><use href="#m19" x="247.3"/><use href="#m9" x="256.7"/><use href="#m1" x="266.7"/><use href="#m3" x="286"/><use href="#m5" x="326"/><use href="#m13" x="338.3"/><path class="u" d="M508-.8H515"/><path class="c" d="M482.7-.8H508"/></g>
<g id="TaVQ13-3A" transform="translate(0,634.5)"><text class="lb" transform="matrix(1.26 0 0 1 138 3)">TaVQ13-3A</text><text class="pv" transform="matrix(1.25 0 0 1 235 3)">6.49e-95</text><path class="ln" d="M239.3 .5H350"/><use href="#m19" x="246.7"/><use href="#m1" x="269"/><use href="#m3" x="287.3"/><use href="#m9" x="310.7"/><use href="#m5" x="326.7"/><use href="#m13" x="336.7"/><path class="u" d="M482.7-.8H487M515-.8H526"/><path class="c" d="M488-.8H515"/></g>
<g id="TaVQ13-3D" transform="translate(0,642.84)"><text class="lb" transform="matrix(1.26 0 0 1 138 3)">TaVQ13-3D</text><text class="pv" transform="matrix(1.25 0 0 1 235 3)">5.81e-95</text><path class="ln" d="M239.3 .5H350"/><use href="#m19" x="246.7"/><use href="#m1" x="269"/><use href="#m3" x="287.3"/><use href="#m9" x="310.7"/><use href="#m5" x="326.7"/><use href="#m13" x="336.7"/><path class="u" d="M482.7-.8H487M515-.8H526"/><path class="c" d="M488-.8H515"/></g>
<g id="TaVQ13-3B" transform="translate(0,651.19)"><text class="lb" transform="matrix(1.26 0 0 1 138 3)">TaVQ13-3B</text><text class="pv" transform="matrix(1.25 0 0 1 235 3)">1.36e-95</text><path class="ln" d="M239.3 .5H346.7"/><use href="#m19" x="242.3"/><use href="#m1" x="264"/><use href="#m3" x="283.3"/><use href="#m9" x="307.3"/><use href="#m5" x="323.3"/><use href="#m13" x="334"/><path class="u" d="M482.7-.8H487M515-.8H526"/><path class="c" d="M488-.8H515"/></g>
<g id="TaVQ14-3A" transform="translate(0,659.53)"><text class="lb" transform="matrix(1.26 0 0 1 138 3)">TaVQ14-3A</text><text class="pv" transform="matrix(1.25 0 0 1 235 3)">4.89e-82</text><path class="ln" d="M239.3 .5H338.3"/><use href="#m1" x="255.3"/><use href="#m3" x="272.3"/><use href="#m9" x="300.7"/><use href="#m5" x="315"/><use href="#m13" x="329.3"/><path class="u" d="M505-.8H524"/><path class="c" d="M482.7-.8H505"/></g>
<g id="TaVQ14-3B" transform="translate(0,667.88)"><text class="lb" transform="matrix(1.26 0 0 1 138 3)">TaVQ14-3B</text><text class="pv" transform="matrix(1.25 0 0 1 235 3)">4.54e-82</text><path class="ln" d="M239.3 .5H338.3"/><use href="#m1" x="255.3"/><use href="#m3" x="272.3"/><use href="#m9" x="300.7"/><use href="#m5" x="315"/><use href="#m13" x="329.3"/><path class="u" d="M505-.8H524"/><path class="c" d="M482.7-.8H505"/></g>
<g id="TaVQ14-3D" transform="translate(0,676.22)"><text class="lb" transform="matrix(1.26 0 0 1 138 3)">TaVQ14-3D</text><text class="pv" transform="matrix(1.25 0 0 1 235 3)">2.35e-80</text><path class="ln" d="M239.3 .5H340"/><use href="#m1" x="255.3"/><use href="#m3" x="272.3"/><use href="#m9" x="300.7"/><use href="#m5" x="315"/><use href="#m13" x="329.3"/><path class="u" d="M505-.8H524"/><path class="c" d="M482.7-.8H505"/></g>
<g id="TaVQ21-4A" transform="translate(0,684.57)"><text class="lb" transform="matrix(1.26 0 0 1 138 3)">TaVQ21-4A</text><text class="pv" transform="matrix(1.25 0 0 1 235 3)">3.36e-24</text><path class="ln" d="M239.3 .5H301.7"/><use href="#m1" x="247.7"/><use href="#m5" x="283.3"/><path class="i" d="M490-.8H494"/><path class="c" d="M482.7-.8H490M494-.8H504"/></g>
<g id="TaVQ21-4B" transform="translate(0,692.91)"><text class="lb" transform="matrix(1.26 0 0 1 138 3)">TaVQ21-4B</text><text class="pv" transform="matrix(1.25 0 0 1 235 3)">8.99e-25</text><path class="ln" d="M239.3 .5H310"/><use href="#m1" x="247.7"/><use href="#m5" x="291.7"/><path class="i" d="M490-.8H494"/><path class="c" d="M482.7-.8H490M494-.8H504"/></g>
<g id="TaVQ21-4D" transform="translate(0,701.26)"><text class="lb" transform="matrix(1.26 0 0 1 138 3)">TaVQ21-4D</text><text class="pv" transform="matrix(1.25 0 0 1 235 3)">2.38e-23</text><path class="ln" d="M239.3 .5H301.7"/><use href="#m1" x="247.3"/><use href="#m5" x="283.3"/><path class="i" d="M490-.8H494"/><path class="c" d="M482.7-.8H490M494-.8H504"/></g>
<g id="TaVQ10-2A" transform="translate(0,709.6)"><text class="lb" transform="matrix(1.26 0 0 1 138 3)">TaVQ10-2A</text><text class="pv" transform="matrix(1.25 0 0 1 235 3)">3.66e-58</text><path class="ln" d="M239.3 .5H338.3"/><use href="#m1" x="252.7"/><use href="#m17" x="288.3"/><use href="#m19" x="303.3"/><use href="#m5" x="313.3"/><use href="#m13" x="328.3"/><path class="u" d="M482.7-.8H487M512-.8H520"/><path class="c" d="M488-.8H512"/></g>
<g id="TaVQ10-2D" transform="translate(0,717.95)"><text class="lb" transform="matrix(1.26 0 0 1 138 3)">TaVQ10-2D</text><text class="pv" transform="matrix(1.25 0 0 1 235 3)">5.88e-57</text><path class="ln" d="M239.3 .5H338.3"/><use href="#m1" x="252.7"/><use href="#m17" x="288.3"/><use href="#m19" x="303.3"/><use href="#m5" x="313.3"/><use href="#m13" x="328.3"/><path class="u" d="M482.7-.8H487M512-.8H520"/><path class="c" d="M488-.8H512"/></g>
<g id="TaVQ10-2B" transform="translate(0,726.29)"><text class="lb" transform="matrix(1.26 0 0 1 138 3)">TaVQ10-2B</text><text class="pv" transform="matrix(1.25 0 0 1 235 3)">2.70e-58</text><path class="ln" d="M239.3 .5H338.3"/><use href="#m1" x="252.7"/><use href="#m17" x="288.3"/><use href="#m19" x="303.3"/><use href="#m5" x="313.3"/><use href="#m13" x="328.3"/><path class="u" d="M482.7-.8H487M512-.8H520"/><path class="c" d="M488-.8H512"/></g>
<g id="TaVQ33-6B" transform="translate(0,734.64)"><text class="lb" transform="matrix(1.26 0 0 1 138 3)">TaVQ33-6B</text><text class="pv" transform="matrix(1.25 0 0 1 235 3)">5.71e-23</text><path class="ln" d="M239.3 .5H311.7"/><use href="#m8" x="239.3"/><use href="#m1" x="244.3"/><use href="#m20" x="278.3"/><path class="c" d="M482.7-.8H500"/></g>
<g id="TaVQ33-6D" transform="translate(0,742.98)"><text class="lb" transform="matrix(1.26 0 0 1 138 3)">TaVQ33-6D</text><text class="pv" transform="matrix(1.25 0 0 1 235 3)">1.16e-21</text><path class="ln" d="M239.3 .5H300.7"/><use href="#m8" x="239.3"/><use href="#m1" x="244.3"/><path class="c" d="M482.7-.8H500"/></g>
<g id="TaVQ8-2D" transform="translate(0,751.33)"><text class="lb" transform="matrix(1.26 0 0 1 138 3)">TaVQ8-2D</text><text class="pv" transform="matrix(1.25 0 0 1 235 3)">3.68e-27</text><path class="ln" d="M239.3 .5H300.7"/><use href="#m8" x="239.3"/><use href="#m1" x="244.3"/><use href="#m7" x="258.3"/><path class="c" d="M482.7-.8H500"/></g>
<g id="TaVQ8-2B" transform="translate(0,759.67)"><text class="lb" transform="matrix(1.26 0 0 1 138 3)">TaVQ8-2B</text><text class="pv" transform="matrix(1.25 0 0 1 235 3)">1.07e-30</text><path class="ln" d="M239.3 .5H300.7"/><use href="#m8" x="239.3"/><use href="#m1" x="244.3"/><use href="#m7" x="258.3"/><use href="#m20" x="268.3"/><path class="c" d="M482.7-.8H500"/></g>
<g id="TaVQ8-2A" transform="translate(0,768.02)"><text class="lb" transform="matrix(1.26 0 0 1 138 3)">TaVQ8-2A</text><text class="pv" transform="matrix(1.25 0 0 1 235 3)">1.57e-28</text><path class="ln" d="M239.3 .5H299.3"/><use href="#m8" x="239.3"/><use href="#m1" x="244.3"/><use href="#m7" x="257.7"/><use href="#m20" x="268.3"/><path class="c" d="M482.7-.8H500"/></g>
<g id="TaVQ18-4B" transform="translate(0,776.36)"><text class="lb" transform="matrix(1.26 0 0 1 138 3)">TaVQ18-4B</text><text class="pv" transform="matrix(1.25 0 0 1 235 3)">3.60e-37</text><path class="ln" d="M239.3 .5H298.3"/><use href="#m8" x="240"/><use href="#m1" x="245"/><use href="#m7" x="257.7"/><use href="#m20" x="268.7"/><use href="#m9" x="280"/><path class="c" d="M482.7-.8H500"/></g>
<g id="TaVQ18-4A" transform="translate(0,784.71)"><text class="lb" transform="matrix(1.26 0 0 1 138 3)">TaVQ18-4A</text><text class="pv" transform="matrix(1.25 0 0 1 235 3)">2.78e-36</text><path class="ln" d="M239.3 .5H298.3"/><use href="#m8" x="240"/><use href="#m1" x="245"/><use href="#m7" x="257"/><use href="#m20" x="268.7"/><use href="#m9" x="280"/><path class="c" d="M482.7-.8H500"/></g>
<g id="TaVQ18-4D" transform="translate(0,793.05)"><text class="lb" transform="matrix(1.26 0 0 1 138 3)">TaVQ18-4D</text><text class="pv" transform="matrix(1.25 0 0 1 235 3)">1.55e-21</text><path class="ln" d="M239.3 .5H292.7"/><use href="#m8" x="240"/><use href="#m1" x="245"/><use href="#m11" x="260.7"/><path class="c" d="M482.7-.8H500"/></g>
<g id="TaVQ36-7B" transform="translate(0,801.4)"><text class="lb" transform="matrix(1.26 0 0 1 138 3)">TaVQ36-7B</text><text class="pv" transform="matrix(1.25 0 0 1 235 3)">8.85e-29</text><path class="ln" d="M239.3 .5H298.3"/><use href="#m8" x="242.7"/><use href="#m1" x="248.3"/><use href="#m7" x="261.3"/><use href="#m9" x="277.3"/><path class="c" d="M482.7-.8H500"/></g>
<g id="TaVQ36-7D" transform="translate(0,809.74)"><text class="lb" transform="matrix(1.26 0 0 1 138 3)">TaVQ36-7D</text><text class="pv" transform="matrix(1.25 0 0 1 235 3)">1.75e-23</text><path class="ln" d="M239.3 .5H298.3"/><use href="#m8" x="242.7"/><use href="#m1" x="248.3"/><use href="#m7" x="261.3"/><path class="c" d="M482.7-.8H500"/></g>
<g id="TaVQ36-7A" transform="translate(0,818.09)"><text class="lb" transform="matrix(1.26 0 0 1 138 3)">TaVQ36-7A</text><text class="pv" transform="matrix(1.25 0 0 1 235 3)">5.29e-27</text><path class="ln" d="M239.3 .5H299.3"/><use href="#m8" x="243.3"/><use href="#m1" x="248.3"/><use href="#m7" x="262.3"/><use href="#m9" x="278.3"/><path class="c" d="M482.7-.8H500"/></g>
<g id="TaVQ3-1B" transform="translate(0,826.43)"><text class="lb" transform="matrix(1.26 0 0 1 138 3)">TaVQ3-1B</text><text class="pv" transform="matrix(1.25 0 0 1 235 3)">1.13e-5</text><path class="ln" d="M239.3 .5H276.7"/><use href="#m1" x="249.3"/><path class="c" d="M482.7-.8H496"/></g>
<g id="TaVQ3-1A" transform="translate(0,834.78)"><text class="lb" transform="matrix(1.26 0 0 1 138 3)">TaVQ3-1A</text><text class="pv" transform="matrix(1.25 0 0 1 235 3)">1.62e-7</text><path class="ln" d="M239.3 .5H276.7"/><use href="#m1" x="249.3"/><path class="c" d="M482.7-.8H496"/></g>
<g id="TaVQ40-7D" transform="translate(0,843.12)"><text class="lb" transform="matrix(1.26 0 0 1 138 3)">TaVQ40-7D</text><text class="pv" transform="matrix(1.25 0 0 1 235 3)">7.19e-11</text><path class="ln" d="M239.3 .5H310"/><use href="#m8" x="251"/><use href="#m1" x="256"/><path class="c" d="M482.7-.8H500"/></g>
<g id="TaVQ1-1A" transform="translate(0,851.47)"><text class="lb" transform="matrix(1.26 0 0 1 138 3)">TaVQ1-1A</text><text class="pv" transform="matrix(1.25 0 0 1 235 3)">2.04e-64</text><path class="ln" d="M239.3 .5H312.7"/><use href="#m8" x="252.7"/><use href="#m1" x="258.7"/><use href="#m14" x="290"/><path class="u" d="M482.7-.8H486M505-.8H513"/><path class="c" d="M487-.8H505"/></g>
<g id="TaVQ1-1D" transform="translate(0,859.81)"><text class="lb" transform="matrix(1.26 0 0 1 138 3)">TaVQ1-1D</text><text class="pv" transform="matrix(1.25 0 0 1 235 3)">7.65e-67</text><path class="ln" d="M239.3 .5H312.7"/><use href="#m8" x="252.7"/><use href="#m1" x="258.7"/><use href="#m14" x="290"/><path class="u" d="M482.7-.8H486M505-.8H513"/><path class="c" d="M487-.8H505"/></g>
<g id="TaVQ1-1B" transform="translate(0,868.16)"><text class="lb" transform="matrix(1.26 0 0 1 138 3)">TaVQ1-1B</text><text class="pv" transform="matrix(1.25 0 0 1 235 3)">2.60e-68</text><path class="ln" d="M239.3 .5H314"/><use href="#m8" x="254"/><use href="#m1" x="259.3"/><use href="#m14" x="291"/><path class="u" d="M482.7-.8H486M505-.8H513"/><path class="c" d="M487-.8H505"/></g>
<g id="TaVQ15-3B" transform="translate(0,876.5)"><text class="lb" transform="matrix(1.26 0 0 1 138 3)">TaVQ15-3B</text><text class="pv" transform="matrix(1.25 0 0 1 235 3)">4.43e-41</text><path class="ln" d="M239.3 .5H308.3"/><use href="#m8" x="254"/><use href="#m1" x="259.3"/><use href="#m14" x="286"/><path class="u" d="M482.7-.8H486M505-.8H513"/><path class="c" d="M487-.8H505"/></g>
<g id="TaVQ15-3A" transform="translate(0,884.85)"><text class="lb" transform="matrix(1.26 0 0 1 138 3)">TaVQ15-3A</text><text class="pv" transform="matrix(1.25 0 0 1 235 3)">1.76e-36</text><path class="ln" d="M239.3 .5H311.7"/><use href="#m8" x="254"/><use href="#m1" x="259.3"/><use href="#m19" x="301"/><path class="u" d="M482.7-.8H486M505-.8H513"/><path class="c" d="M487-.8H505"/></g>
<g id="TaVQ19-4B" transform="translate(0,893.19)"><text class="lb" transform="matrix(1.26 0 0 1 138 3)">TaVQ19-4B</text><text class="pv" transform="matrix(1.25 0 0 1 235 3)">7.36e-17</text><path class="ln" d="M239.3 .5H306.7"/><use href="#m8" x="252.7"/><use href="#m1" x="258.3"/><path class="u" d="M482.7-.8H486M505-.8H513"/><path class="c" d="M487-.8H505"/></g>
<g id="TaVQ19-4A" transform="translate(0,901.54)"><text class="lb" transform="matrix(1.26 0 0 1 138 3)">TaVQ19-4A</text><text class="pv" transform="matrix(1.25 0 0 1 235 3)">2.37e-21</text><path class="ln" d="M239.3 .5H308.3"/><use href="#m8" x="252.7"/><use href="#m1" x="258.3"/><path class="u" d="M482.7-.8H488.3M507.3-.8H520"/><path class="c" d="M489-.8H506.7"/></g>
<g id="TaVQ19-4D" transform="translate(0,909.88)"><text class="lb" transform="matrix(1.26 0 0 1 138 3)">TaVQ19-4D</text><text class="pv" transform="matrix(1.25 0 0 1 235 3)">6.59e-23</text><path class="ln" d="M239.3 .5H311.7"/><use href="#m8" x="252.7"/><use href="#m1" x="258.3"/><use href="#m19" x="274"/><path class="u" d="M482.7-.8H488.3M507.3-.8H513.3"/><path class="c" d="M489-.8H506.7"/></g>
<g id="TaVQ17-3B" transform="translate(0,918.23)"><text class="lb" transform="matrix(1.26 0 0 1 138 3)">TaVQ17-3B</text><text class="pv" transform="matrix(1.25 0 0 1 235 3)">3.91e-29</text><path class="ln" d="M239.3 .5H314"/><use href="#m7" x="240"/><use href="#m1" x="255.7"/><use href="#m9" x="288.3"/><path class="i" d="M491-1.8H496.7"/><path class="c" d="M482.7-.8H491M496.7-.8H505.7"/></g>
<g id="TaVQ17-3D" transform="translate(0,926.57)"><text class="lb" transform="matrix(1.26 0 0 1 138 3)">TaVQ17-3D</text><text class="pv" transform="matrix(1.25 0 0 1 235 3)">3.02e-30</text><path class="ln" d="M239.3 .5H314"/><use href="#m7" x="240"/><use href="#m1" x="255.7"/><use href="#m9" x="288.3"/><path class="i" d="M491.7-.8H708.3"/><path class="c" d="M482.7-.8H491.7M708.3-.8H717.7"/></g>
<g id="TaVQ38-7A" transform="translate(0,934.92)"><text class="lb" transform="matrix(1.26 0 0 1 138 3)">TaVQ38-7A</text><text class="pv" transform="matrix(1.25 0 0 1 235 3)">1.36e-33</text><path class="ln" d="M239.3 .5H334.3"/><use href="#m1" x="262.7"/><use href="#m6" x="294.3"/><use href="#m9" x="310"/><path class="u" d="M482.7-.8H487.3M514-.8H516.7"/><path class="c" d="M488.3-.8H513.3"/></g>
<g id="TaVQ38-7B" transform="translate(0,943.26)"><text class="lb" transform="matrix(1.26 0 0 1 138 3)">TaVQ38-7B</text><text class="pv" transform="matrix(1.25 0 0 1 235 3)">2.83e-32</text><path class="ln" d="M239.3 .5H335"/><use href="#m1" x="263.3"/><use href="#m6" x="295"/><use href="#m9" x="310.7"/><path class="c" d="M482.7-.8H507.7"/></g>
<g id="TaVQ38-7D" transform="translate(0,951.61)"><text class="lb" transform="matrix(1.26 0 0 1 138 3)">TaVQ38-7D</text><text class="pv" transform="matrix(1.25 0 0 1 235 3)">3.39e-32</text><path class="ln" d="M239.3 .5H336.7"/><use href="#m1" x="264"/><use href="#m6" x="296"/><use href="#m9" x="311.7"/><path class="u" d="M482.7-.8H487.7M513.3-.8H520"/><path class="c" d="M488.3-.8H513.3"/></g>
<g id="TaVQ9-2B" transform="translate(0,959.95)"><text class="lb" transform="matrix(1.26 0 0 1 138 3)">TaVQ9-2B</text><text class="pv" transform="matrix(1.25 0 0 1 235 3)">5.50e-16</text><path class="ln" d="M239.3 .5H315"/><use href="#m7" x="251.7"/><use href="#m1" x="260"/><path class="u" d="M482.7-.8H484M505.7-.8H515.7"/><path class="c" d="M485-.8H505"/></g>
<g id="TaVQ9-2D" transform="translate(0,968.3)"><text class="lb" transform="matrix(1.26 0 0 1 138 3)">TaVQ9-2D</text><text class="pv" transform="matrix(1.25 0 0 1 235 3)">1.97e-17</text><path class="ln" d="M239.3 .5H313.3"/><use href="#m7" x="251.7"/><use href="#m1" x="260"/><use href="#m19" x="273.3"/><path class="c" d="M482.7-.8H502.3"/></g>
<g id="TaVQ9-2A" transform="translate(0,976.64)"><text class="lb" transform="matrix(1.26 0 0 1 138 3)">TaVQ9-2A</text><text class="pv" transform="matrix(1.25 0 0 1 235 3)">4.80e-15</text><path class="ln" d="M239.3 .5H313.3"/><use href="#m7" x="251.7"/><use href="#m1" x="260"/><path class="c" d="M482.7-.8H502.3"/></g>
</g>
</svg>
